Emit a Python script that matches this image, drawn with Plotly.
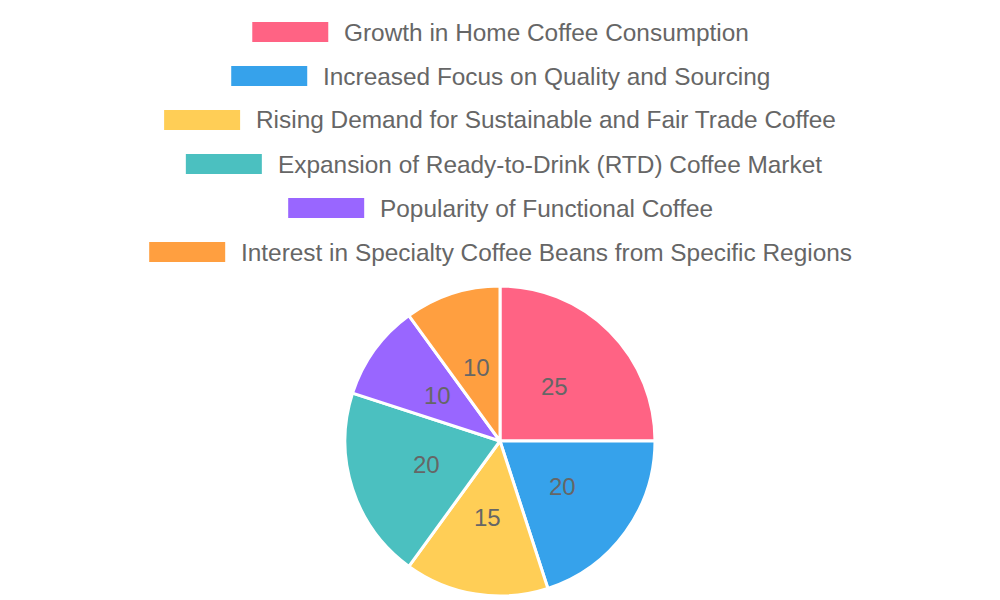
import math
import plotly.graph_objects as go

# donnees du graphique
categories = [
    "Growth in Home Coffee Consumption",
    "Increased Focus on Quality and Sourcing",
    "Rising Demand for Sustainable and Fair Trade Coffee",
    "Expansion of Ready-to-Drink (RTD) Coffee Market",
    "Popularity of Functional Coffee",
    "Interest in Specialty Coffee Beans from Specific Regions",
]
values = [25, 20, 15, 20, 10, 10]
colors = ["#FF6384", "#36A2EB", "#FFCE56", "#4BC0C0", "#9966FF", "#FF9F40"]

W, H = 1000, 600
FONT = "Liberation Sans, Arial, sans-serif"
GREY = "#666666"

# largeurs Arial (unites /1000) pour centrer la legende
ARIAL = {
    " ": 278, "a": 556, "b": 556, "c": 500, "d": 556, "e": 556, "f": 278, "g": 556,
    "h": 556, "i": 222, "j": 222, "k": 500, "l": 222, "m": 833, "n": 556, "o": 556,
    "p": 556, "q": 556, "r": 333, "s": 500, "t": 278, "u": 556, "v": 500, "w": 722,
    "x": 500, "y": 500, "z": 500, "A": 667, "B": 667, "C": 722, "D": 722, "E": 667,
    "F": 611, "G": 778, "H": 722, "I": 278, "P": 667, "Q": 778, "R": 722, "S": 667,
    "T": 611, "(": 333, ")": 333, "-": 333,
}


def text_width(s, size):
    return sum(ARIAL.get(ch, 556) for ch in s) * size / 1000


# centre et rayon du camembert (pixels)
cx, cy, r = 500, 441, 155

fig = go.Figure(go.Pie(
    labels=categories,
    values=values,
    sort=False,
    direction="clockwise",
    rotation=0,
    marker=dict(colors=colors, line=dict(color="white", width=3)),
    textinfo="none",
    hoverinfo="label+value",
    showlegend=False,
    domain=dict(x=[(cx - r) / W, (cx + r) / W],
                y=[(H - cy - r) / H, (H - cy + r) / H]),
))

shapes = []
annotations = []

# legende faite a la main (rectangles 76x20)
font_size = 24.4
box_w, box_h, gap = 76, 20, 14
for i, (cat, col) in enumerate(zip(categories, colors)):
    y = 32 + 44 * i
    total = box_w + gap + text_width(cat, font_size)
    x0 = 500 - total / 2
    shapes.append(dict(type="rect", xref="paper", yref="paper",
                       x0=x0 / W, x1=(x0 + box_w) / W,
                       y0=(H - y - box_h / 2) / H, y1=(H - y + box_h / 2) / H,
                       fillcolor=col, line=dict(width=0)))
    annotations.append(dict(xref="paper", yref="paper",
                            x=(x0 + box_w + gap) / W, y=(H - y) / H,
                            xanchor="left", yanchor="middle", showarrow=False,
                            text=cat, font=dict(family=FONT, size=font_size, color=GREY)))

# etiquettes des valeurs au milieu de chaque part
total_v = sum(values)
start = 0
for v in values:
    mid = (start + v / 2) / total_v * 2 * math.pi
    start += v
    px = cx + r / 2 * math.sin(mid)
    py = cy - r / 2 * math.cos(mid)
    annotations.append(dict(xref="paper", yref="paper", x=px / W, y=(H - py) / H,
                            xanchor="center", yanchor="middle", showarrow=False,
                            text=str(v), font=dict(family=FONT, size=24, color=GREY)))

fig.update_layout(
    width=W, height=H,
    margin=dict(l=0, r=0, t=0, b=0),
    paper_bgcolor="white",
    plot_bgcolor="white",
    shapes=shapes,
    annotations=annotations,
)

# pas de marge de page autour du graphique, pas de barre d'outils
fig.write_html("out.html", config={"displayModeBar": False},
               post_script="document.body.style.margin='0';")
